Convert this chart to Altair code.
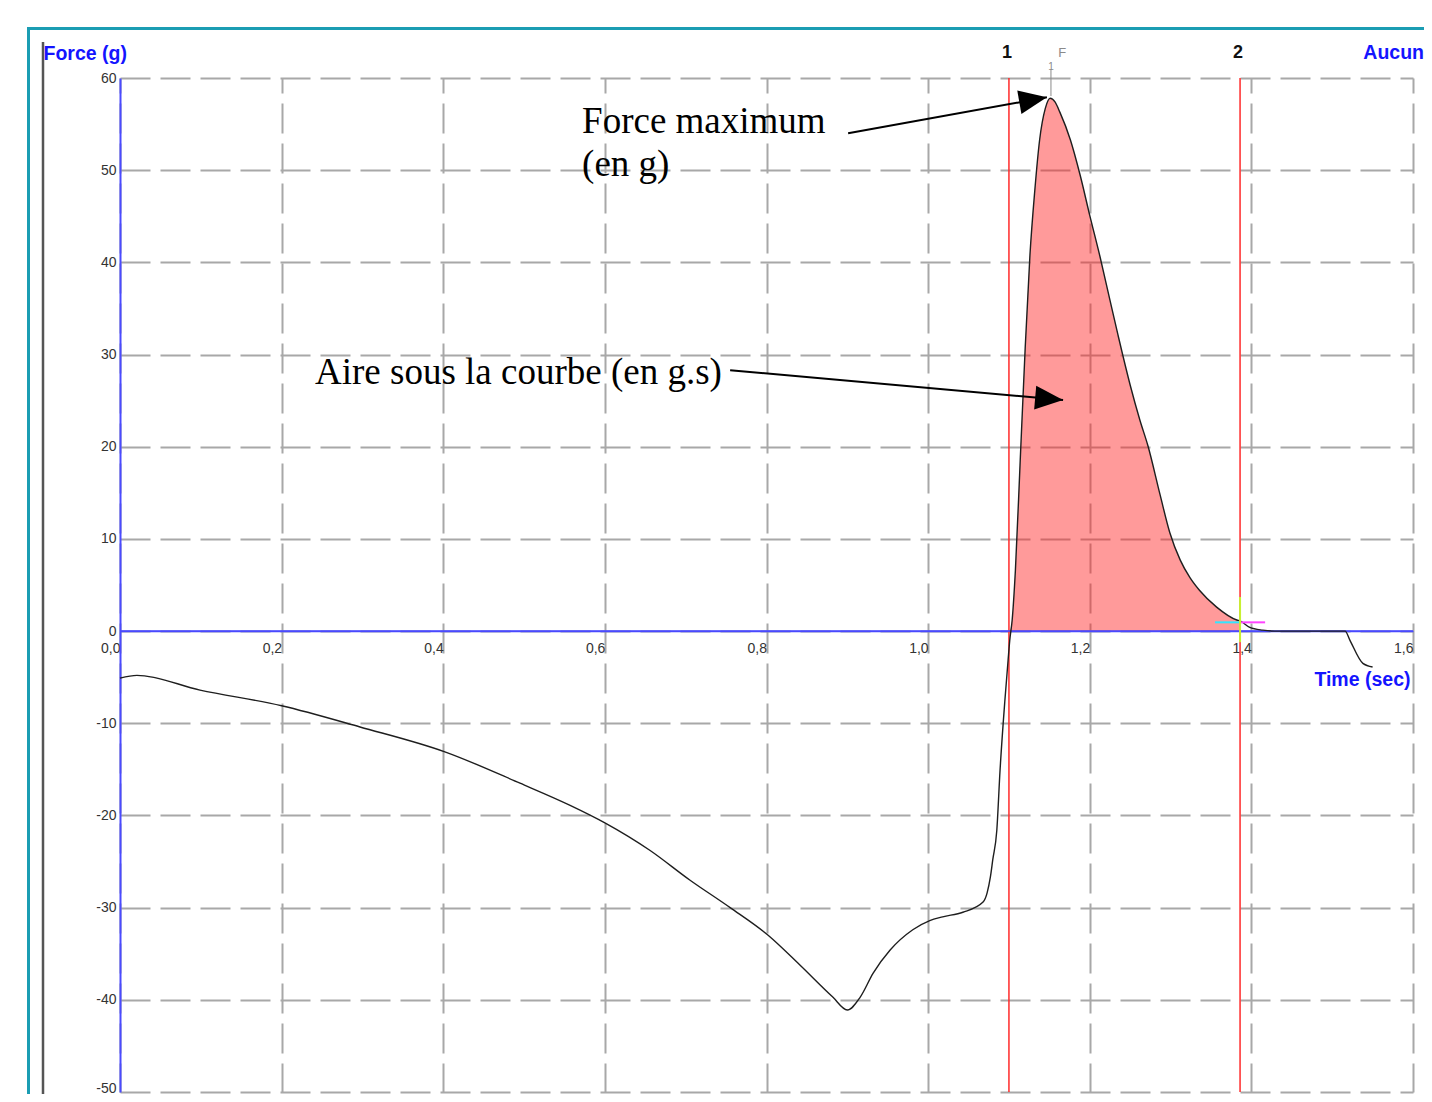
import altair as alt
import pandas as pd

# ---- data ----
time_s = [0.000, 0.021, 0.099, 0.200, 0.297, 0.402, 0.495, 0.557, 0.600, 0.656,
          0.705, 0.755, 0.802, 0.841, 0.882, 0.900, 0.916, 0.932, 0.953, 0.981,
          1.002, 1.018, 1.043, 1.068, 1.073, 1.077, 1.080, 1.085, 1.089, 1.095,
          1.099, 1.101, 1.104, 1.108, 1.114, 1.120, 1.126, 1.132, 1.138, 1.145,
          1.151, 1.157, 1.163, 1.176, 1.188, 1.200, 1.213, 1.225, 1.235, 1.250,
          1.262, 1.272, 1.287, 1.299, 1.312, 1.324, 1.336, 1.357, 1.382, 1.386,
          1.398, 1.414, 1.429, 1.460, 1.516, 1.522, 1.538, 1.550]
force_g = [-5.1, -4.8, -6.4, -8.1, -10.4, -13.1, -16.5, -18.9, -20.8, -23.8,
           -27.0, -30.0, -33.0, -36.2, -39.7, -41.1, -39.7, -37.1, -34.6, -32.4,
           -31.4, -31.0, -30.5, -29.4, -28.4, -26.7, -24.8, -21.6, -15.1, -7.5,
           -3.1, -1.0, 1.2, 6.6, 18.6, 30.5, 40.8, 47.8, 53.3, 56.7,
           57.8, 57.4, 56.3, 53.3, 49.5, 45.1, 40.5, 35.9, 32.1, 26.7,
           22.9, 20.1, 14.8, 10.7, 7.7, 5.8, 4.4, 2.6, 1.2, 1.1,
           0.4, 0.1, 0.0, 0.0, 0.0, -1.0, -3.5, -3.9]

x_ticks = [0.0, 0.2, 0.4, 0.6, 0.8, 1.0, 1.2, 1.4, 1.6]
y_ticks = [-50, -40, -30, -20, -10, 0, 10, 20, 30, 40, 50, 60]

cursor_t = [1.1, 1.386]
cursor_name = ["1", "2"]

peak_marker_t = [1.152]
peak_label_t = [1.166]

note_text = ["Force maximum", "(en g)", "Aire sous la courbe (en g.s)"]
note_t = [0.5718, 0.5718, 0.2413]
note_f = [54.0, 49.35, 26.8]

arrow_tail_t = [0.901, 0.755]
arrow_tail_f = [54.0, 28.3]
arrow_head_t = [1.147, 1.167]
arrow_head_f = [57.9, 25.06]
arrow_angle = [80, 95]

BLUE = "#1414ff"
AXBLUE = "#4a4aff"
GRID = "#a8a8a8"

curve = pd.DataFrame({"t": time_s, "f": force_g})
cursors = pd.DataFrame({"t": cursor_t, "name": cursor_name})
notes = pd.DataFrame({"t": note_t, "f": note_f, "txt": note_text})
arrows = pd.DataFrame({"t": arrow_tail_t, "f": arrow_tail_f,
                       "t2": arrow_head_t, "f2": arrow_head_f, "ang": arrow_angle})
one = pd.DataFrame({"a": [0]})
zero = pd.DataFrame({"z": [0]})

xs = alt.Scale(domain=[0, 1.6], nice=False, zero=False)
ys = alt.Scale(domain=[-50, 60], nice=False, zero=False)

x_axis = alt.Axis(values=x_ticks, format=".1f", labelExpr="replace(datum.label, '.', ',')",
                  orient="bottom", offset=-461, domainColor=AXBLUE, domainWidth=1.5,
                  ticks=False, labelAlign="right", labelBaseline="top", labelPadding=10,
                  labelFlush=False, labelOverlap=False, labelFontSize=14,
                  labelFont="Liberation Sans", labelColor="#333333",
                  grid=True, gridDash=[30, 10], gridDashOffset=15, gridColor=GRID, gridWidth=2,
                  title="Time (sec)", titleX=1290, titleY=48, titleAlign="right",
                  titleBaseline="middle", titleColor=BLUE, titleFontSize=19.5,
                  titleFont="Liberation Sans", titleFontWeight="bold")
y_axis = alt.Axis(values=y_ticks, orient="left", domainColor=AXBLUE, domainWidth=2,
                  ticks=False, labelPadding=4, labelFontSize=14, labelFont="Liberation Sans",
                  labelColor="#333333", labelOverlap=False, labelFlush=False,
                  labelExpr="toString(datum.value)",
                  labelBaseline={"condition": {"test": "datum.value == -50", "value": "alphabetic"},
                                 "value": "middle"},
                  grid=True, gridDash=[30, 10], gridColor=GRID, gridWidth=2,
                  title="Force (g)", titleAngle=0, titleX=-77, titleY=-25, titleAlign="left",
                  titleBaseline="middle", titleColor=BLUE, titleFontSize=19.5,
                  titleFont="Liberation Sans", titleFontWeight="bold")


def X(field):
    return alt.X(field, type="quantitative", scale=xs, axis=x_axis)


def Y(field):
    return alt.Y(field, type="quantitative", scale=ys, axis=y_axis)


# decorative frame
frame_left = alt.Chart(one).mark_rule(color="#1b9db3", strokeWidth=3).encode(
    x=alt.value(-91.5), y=alt.value(-51), y2=alt.value(1030))
frame_top = alt.Chart(one).mark_rule(color="#1b9db3", strokeWidth=3).encode(
    x=alt.value(-93), x2=alt.value(1320), y=alt.value(-49.5))
frame_gray = alt.Chart(one).mark_rule(color="#555555", strokeWidth=2.5).encode(
    x=alt.value(-77), y=alt.value(-36), y2=alt.value(1030))

fill = alt.Chart(curve).transform_filter(
    f"datum.t >= {cursor_t[0]} && datum.t <= {cursor_t[1]}"
).transform_calculate(fp="max(datum.f, 0)").mark_area(
    color="#ff2020", opacity=0.45, interpolate="monotone"
).encode(x=X("t"), y=Y("fp"), y2=alt.datum(0))

cursor_lines = alt.Chart(cursors).mark_rule(color="#ff2a2a", strokeWidth=1.5).encode(x=X("t"))
cursor_names = alt.Chart(cursors).mark_text(fontSize=18, fontWeight="bold", font="Liberation Sans",
                                            color="#111111", baseline="middle", dx=-2).encode(
    x=X("t"), y=alt.value(-25), text="name:N")

zero_line = alt.Chart(zero).mark_rule(color=AXBLUE, strokeWidth=1.5).encode(y=Y("z"))

line = alt.Chart(curve).mark_line(color="#1e1e1e", strokeWidth=1.4, interpolate="monotone").encode(
    x=X("t"), y=Y("f"))

peak_tick = alt.Chart(pd.DataFrame({"t": peak_marker_t})).mark_rule(color="#8a8a8a", strokeWidth=1).encode(
    x=X("t"), y=alt.value(-8), y2=alt.value(18))
peak_one = alt.Chart(pd.DataFrame({"t": peak_marker_t})).mark_text(
    fontSize=10, color="#8a8a8a", font="Liberation Sans", baseline="middle").encode(
    x=X("t"), y=alt.value(-11), text=alt.value("1"))
peak_F = alt.Chart(pd.DataFrame({"t": peak_label_t})).mark_text(
    fontSize=13, color="#8a8a8a", font="Liberation Sans", baseline="middle").encode(
    x=X("t"), y=alt.value(-25), text=alt.value("F"))

aucun = alt.Chart(one).mark_text(fontSize=19.5, fontWeight="bold", font="Liberation Sans",
                                 color=BLUE, align="right", baseline="middle").encode(
    x=alt.value(1304), y=alt.value(-25), text=alt.value("Aucun"))

arrow_lines = alt.Chart(arrows).mark_rule(color="#000000", strokeWidth=2).encode(
    x=X("t"), y=Y("f"), x2="t2:Q", y2="f2:Q")
arrow_heads = alt.Chart(arrows).mark_point(
    shape="M0,0L0.85,2L-0.85,2Z", filled=True, color="#000000", opacity=1, size=784
).encode(x=X("t2"), y=Y("f2"), angle=alt.Angle("ang:Q", scale=None))

note_marks = alt.Chart(notes).mark_text(font="Liberation Serif", fontSize=37, color="#000000",
                                        align="left", baseline="alphabetic").encode(
    x=X("t"), y=Y("f"), text="txt:N")

cross_v = alt.Chart(pd.DataFrame({"t": [cursor_t[1]], "a": [3.7], "b": [-1.2]})).mark_rule(
    color="#c8f032", strokeWidth=2).encode(x=X("t"), y=Y("a"), y2="b:Q")
cross_h = alt.Chart(pd.DataFrame({"t": [1.355, 1.386], "t2": [1.386, 1.417], "f": [0.95, 0.95],
                                  "c": ["#33e6ff", "#ff44ff"]})).mark_rule(strokeWidth=2).encode(
    x=X("t"), x2="t2:Q", y=Y("f"), color=alt.Color("c:N", scale=None))

chart = alt.layer(
    fill, frame_left, frame_top, frame_gray, cursor_lines, zero_line, line,
    cross_h, cross_v, peak_tick, peak_one, peak_F, cursor_names, aucun,
    arrow_lines, arrow_heads, note_marks
).properties(
    width=1293, height=1014,
    padding={"left": 112, "top": 70, "right": 11, "bottom": 2},
    autosize=alt.AutoSizeParams(type="none"),
    background="white"
).configure_view(stroke="transparent")

chart.save("out.html", embed_options={"renderer": "svg", "actions": False})
